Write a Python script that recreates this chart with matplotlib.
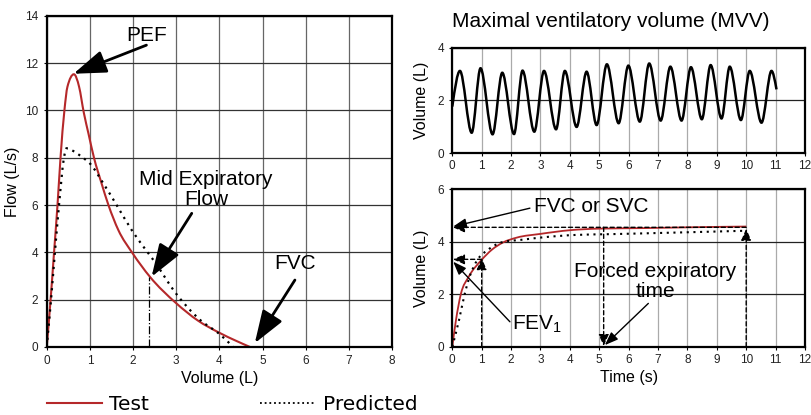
import numpy as np
import matplotlib
matplotlib.use('Agg')
import matplotlib.pyplot as plt
from matplotlib.path import Path
from matplotlib.patches import PathPatch
from matplotlib.lines import Line2D

plt.rcParams['font.family'] = ['Liberation Sans', 'DejaVu Sans']

## Flow-volume loop (left)
test_vol = [0, 0.09, 0.17, 0.25, 0.32, 0.41, 0.48, 0.63, 0.75, 0.86, 0.97, 1.095, 1.27, 1.43, 1.66,
            1.99, 2.39, 3.0, 3.5, 4.0, 4.4, 4.71]
test_flow = [0, 2.0, 4.0, 6.0, 8.0, 10.0, 11.0, 11.53, 11.0, 9.9, 9.0, 8.0, 6.92, 6.0, 4.94,
             3.96, 2.97, 1.85, 1.12, 0.6, 0.25, 0]
pred_vol = [0, 0.1, 0.19, 0.285, 0.4, 0.46, 0.6, 0.81, 1.0, 1.31, 1.62, 1.97, 2.24, 2.47, 3.0, 3.55, 4.0, 4.32]
pred_flow = [0, 2.0, 4.0, 6.0, 8.0, 8.4, 8.3, 8.04, 7.76, 6.92, 6.0, 4.94, 4.24, 3.68, 2.25, 1.15, 0.55, 0]
pef = (0.62, 11.55)
mef = (2.37, 2.97)

## MVV trace (right top), turning points
mvv_t = [0, 0.26, 0.66, 0.96, 1.37, 1.70, 2.10, 2.39, 2.79, 3.12, 3.53, 3.83, 4.23, 4.57, 4.91,
         5.26, 5.66, 5.99, 6.38, 6.70, 7.09, 7.42, 7.80, 8.12, 8.49, 8.79, 9.16, 9.44, 9.82,
         10.12, 10.52, 10.86, 11.03]
mvv_v = [1.77, 3.12, 0.78, 3.22, 0.72, 3.05, 0.73, 3.13, 0.82, 3.12, 0.91, 3.12, 1.0, 3.09, 1.07,
         3.37, 1.14, 3.32, 1.2, 3.4, 1.24, 3.28, 1.24, 3.26, 1.29, 3.34, 1.32, 3.28, 1.26,
         3.12, 1.16, 3.12, 2.42]

## Volume-time curve (right bottom)
vt_test_t = [0, 0.126, 0.29, 0.56, 0.99, 1.35, 1.72, 2.2, 3.0, 4.0, 5.0, 6.5, 8.0, 10.0]
vt_test_v = [0, 1.02, 2.0, 2.67, 3.3, 3.7, 3.97, 4.16, 4.3, 4.44, 4.5, 4.52, 4.55, 4.58]
vt_pred_t = [0, 0.23, 0.42, 0.59, 0.85, 1.21, 1.72, 2.4, 3.1, 4.2, 5.4, 7.6, 10.0]
vt_pred_v = [0, 1.02, 2.0, 2.67, 3.3, 3.69, 3.99, 4.08, 4.17, 4.26, 4.29, 4.35, 4.42]
fev1 = 3.33
fvc = 4.55
fet = 5.15
end_t = 10.0

RED = '#b5282a'


## Smooth curve (monotone cubic, like d3 curveMonotoneX) through the points
def smooth_path(x, y):
    x = np.asarray(x, float)
    y = np.asarray(y, float)
    n = len(x)
    h = np.diff(x)
    s = np.diff(y) / h
    t = np.zeros(n)
    for i in range(1, n - 1):
        p = (s[i - 1] * h[i] + s[i] * h[i - 1]) / (h[i - 1] + h[i])
        t[i] = (np.sign(s[i - 1]) + np.sign(s[i])) * min(abs(s[i - 1]), abs(s[i]), 0.5 * abs(p))
    t[0] = (3 * s[0] - t[1]) / 2
    t[-1] = (3 * s[-1] - t[-2]) / 2
    verts = [(x[0], y[0])]
    codes = [Path.MOVETO]
    for i in range(n - 1):
        dx = h[i] / 3
        verts += [(x[i] + dx, y[i] + dx * t[i]), (x[i + 1] - dx, y[i + 1] - dx * t[i + 1]), (x[i + 1], y[i + 1])]
        codes += [Path.CURVE4] * 3
    return Path(verts, codes)


def add_curve(ax, x, y, **kw):
    ax.add_patch(PathPatch(smooth_path(x, y), fill=False, **kw))


def style_axes(ax, vcol, hcol):
    for sp in ax.spines.values():
        sp.set_linewidth(1.6)
        sp.set_color('black')
    ax.tick_params(labelsize=8.5, length=2, width=0.8, pad=4, labelcolor='#222222')
    ax.grid(True, axis='x', color=vcol, lw=0.9)
    ax.grid(True, axis='y', color=hcol, lw=0.9)
    ax.set_axisbelow(True)


fig = plt.figure(figsize=(8.11, 4.15), dpi=100)

# ---- left: flow-volume
ax1 = fig.add_axes([0.0576, 0.1639, 0.4258, 0.798])
style_axes(ax1, '#666666', '#333333')
add_curve(ax1, test_vol, test_flow, color=RED, lw=1.5)
add_curve(ax1, pred_vol, pred_flow, color='black', lw=1.6, linestyle=(0, (1, 2.2)))
ax1.plot([mef[0], mef[0]], [0, mef[1]], color='black', lw=0.9, linestyle='-.')
ax1.set_xlim(0, 8)
ax1.set_ylim(0, 14)
ax1.set_xticks(range(0, 9))
ax1.set_yticks(range(0, 15, 2))
ax1.set_xlabel('Volume (L)', fontsize=11.5, labelpad=3)
ax1.set_ylabel('Flow (L/s)', fontsize=11.5, labelpad=4)

big = dict(arrowstyle='-|>,head_length=2.0,head_width=0.7', color='black', lw=2,
           mutation_scale=10, shrinkA=0, shrinkB=0)
ax1.text(2.31, 13.16, 'PEF', fontsize=15, ha='center', va='center')
ax1.annotate('', xy=pef, xytext=(2.31, 12.76), arrowprops=big)
ax1.text(3.69, 6.66, 'Mid Expiratory\nFlow', fontsize=15, ha='center', va='center', linespacing=1.1)
ax1.annotate('', xy=(2.43, 2.97), xytext=(3.36, 5.65), arrowprops=big)
ax1.text(5.76, 3.51, 'FVC', fontsize=15, ha='center', va='center')
ax1.annotate('', xy=(4.82, 0.16), xytext=(5.75, 2.83), arrowprops=big)

# ---- right top: MVV
ax2 = fig.add_axes([0.5577, 0.6306, 0.4349, 0.2545])
style_axes(ax2, '#aaaaaa', '#222222')
add_curve(ax2, mvv_t, mvv_v, color='black', lw=1.8)
ax2.set_xlim(0, 12)
ax2.set_ylim(0, 4)
ax2.set_xticks(range(0, 13))
ax2.set_yticks([0, 2, 4])
ax2.tick_params(axis='x', pad=3)
ax2.set_ylabel('Volume (L)', fontsize=11.5, labelpad=6)
fig.text(0.5577, 0.948, 'Maximal ventilatory volume (MVV)', fontsize=15, ha='left', va='center')

# ---- right bottom: volume-time
ax3 = fig.add_axes([0.5577, 0.1646, 0.4349, 0.3793])
style_axes(ax3, '#aaaaaa', '#222222')
add_curve(ax3, vt_test_t, vt_test_v, color=RED, lw=1.3)
add_curve(ax3, vt_pred_t, vt_pred_v, color='black', lw=1.5, linestyle=(0, (1, 2.2)))
ax3.set_xlim(0, 12)
ax3.set_ylim(0, 6)
ax3.set_xticks(range(0, 13))
ax3.set_yticks([0, 2, 4, 6])
ax3.tick_params(axis='x', pad=3)
ax3.set_xlabel('Time (s)', fontsize=11.5, labelpad=3)
ax3.set_ylabel('Volume (L)', fontsize=11.5, labelpad=6)

thin = dict(arrowstyle='-|>,head_length=0.8,head_width=0.3', color='black', lw=1,
            mutation_scale=10, shrinkA=0, shrinkB=0)
dash = dict(arrowstyle='-|>,head_length=0.7,head_width=0.3', color='black', lw=1,
            linestyle=(0, (3, 2)), mutation_scale=10, shrinkA=0, shrinkB=0)
ax3.annotate('', xy=(0.02, fvc), xytext=(end_t, fvc), arrowprops=dash)
ax3.annotate('', xy=(end_t, fvc - 0.05), xytext=(end_t, 0), arrowprops=dash)
ax3.annotate('', xy=(fet, 0.02), xytext=(fet, fvc), arrowprops=dash)
ax3.annotate('', xy=(1.0, fev1 + 0.05), xytext=(1.0, 0), arrowprops=dash)
ax3.annotate('', xy=(0.02, fev1), xytext=(1.0, fev1), arrowprops=dash)

ax3.text(2.79, 5.34, 'FVC or SVC', fontsize=15, ha='left', va='center')
ax3.annotate('', xy=(0.03, 4.58), xytext=(2.64, 5.28), arrowprops=thin)
ax3.text(2.02, 0.87, 'FEV$_\\mathregular{1}$', fontsize=15, ha='left', va='center')
ax3.annotate('', xy=(0.03, 3.24), xytext=(1.96, 0.95), arrowprops=thin)
ax3.text(6.9, 2.48, 'Forced expiratory\ntime', fontsize=15, ha='center', va='center', linespacing=1.1)
ax3.annotate('', xy=(5.19, 0.06), xytext=(6.67, 1.65), arrowprops=thin)

# ---- legend
handles = [Line2D([], [], color=RED, lw=1.5),
           Line2D([], [], color='black', lw=1.3, linestyle=(0, (1, 1.6)))]
fig.legend(handles, ['Test', 'Predicted'], loc='center left', bbox_to_anchor=(0.058, 0.026),
           ncol=2, frameon=False, prop={'family': 'DejaVu Sans', 'size': 14.5},
           handlelength=2.75, handletextpad=0.35, columnspacing=5.5, borderpad=0, borderaxespad=0)

plt.savefig('out.png', dpi=100)
